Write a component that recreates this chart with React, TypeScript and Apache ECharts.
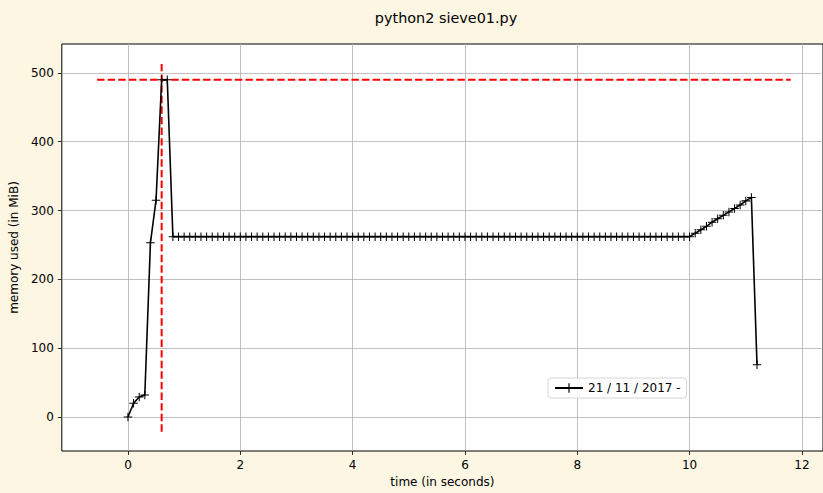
import React, { useEffect, useRef } from "react";
import * as echarts from "echarts";

const titleText = "python2 sieve01.py";
const legendLabel = "21 / 11 / 2017 -";
const sampleInterval = 0.1;

// memory samples (MiB), one every 0.1 s
const memValues = [
  0, 20, 29, 32, 253, 315, 490, 490,
  262, 262, 262, 262, 262, 262, 262, 262, 262, 262,
  262, 262, 262, 262, 262, 262, 262, 262, 262, 262,
  262, 262, 262, 262, 262, 262, 262, 262, 262, 262,
  262, 262, 262, 262, 262, 262, 262, 262, 262, 262,
  262, 262, 262, 262, 262, 262, 262, 262, 262, 262,
  262, 262, 262, 262, 262, 262, 262, 262, 262, 262,
  262, 262, 262, 262, 262, 262, 262, 262, 262, 262,
  262, 262, 262, 262, 262, 262, 262, 262, 262, 262,
  262, 262, 262, 262, 262, 262, 262, 262, 262, 262,
  262, 262, 262,
  267, 272, 277, 283, 288, 293, 298, 303, 308, 314, 319,
  76,
];

const maxLineH = [
  [-0.55, 490],
  [11.8, 490],
];
const maxLineV = [
  [0.6, 513],
  [0.6, -25],
];

const xTicks = [0, 2, 4, 6, 8, 10, 12];
const yTicks = [0, 100, 200, 300, 400, 500];

const plusSymbol = "path://M0,4.4H10V5.6H0Z M4.4,0H5.6V10H4.4Z";

export default function App() {
  const ref = useRef<HTMLDivElement>(null);

  useEffect(() => {
    if (!ref.current) return;
    const chart = echarts.init(ref.current, null, { renderer: "svg" });
    const memData = memValues.map((v, i) => [
      Math.round(i * sampleInterval * 1000) / 1000,
      v,
    ]);
    const font = "DejaVu Sans";
    chart.setOption({
      animation: false,
      backgroundColor: "#fdf6e3",
      title: {
        text: titleText,
        left: 441,
        textAlign: "center",
        top: 6,
        textStyle: {
          fontFamily: font,
          fontSize: 14.4,
          fontWeight: "normal",
          color: "#000",
        },
      },
      grid: {
        left: 60,
        right: 0,
        top: 44,
        bottom: 39,
        show: true,
        backgroundColor: "#ffffff",
        borderColor: "#000",
        borderWidth: 1,
        containLabel: false,
      },
      legend: {
        data: [legendLabel],
        left: 548,
        top: 378,
        orient: "horizontal",
        itemWidth: 28,
        itemHeight: 12,
        itemGap: 4,
        padding: [4, 6, 4, 6],
        backgroundColor: "rgba(255,255,255,0.8)",
        borderColor: "#d6d6d6",
        borderWidth: 1,
        borderRadius: 3,
        textStyle: { fontFamily: font, fontSize: 12, color: "#000" },
      },
      xAxis: {
        type: "value",
        min: -1.178,
        max: 12.375,
        name: "time (in seconds)",
        nameLocation: "middle",
        nameGap: 25,
        nameTextStyle: { fontFamily: font, fontSize: 12, color: "#000" },
        axisLine: { show: false, onZero: false },
        axisTick: {
          show: true,
          inside: false,
          length: 4,
          customValues: xTicks,
          lineStyle: { color: "#000", width: 0.8 },
        },
        axisLabel: {
          customValues: xTicks,
          margin: 8,
          fontFamily: font,
          fontSize: 12,
          color: "#000",
        },
        splitLine: { show: true, lineStyle: { color: "#b0b0b0", width: 0.8 } },
      },
      yAxis: {
        type: "value",
        min: -49.5,
        max: 542,
        name: "memory used (in MiB)",
        nameLocation: "middle",
        nameGap: 38,
        nameTextStyle: { fontFamily: font, fontSize: 12, color: "#000" },
        axisLine: { show: false, onZero: false },
        axisTick: {
          show: true,
          inside: false,
          length: 4,
          customValues: yTicks,
          lineStyle: { color: "#000", width: 0.8 },
        },
        axisLabel: {
          customValues: yTicks,
          margin: 8,
          fontFamily: font,
          fontSize: 12,
          color: "#000",
        },
        splitLine: { show: true, lineStyle: { color: "#b0b0b0", width: 0.8 } },
      },
      series: [
        {
          name: "maxH",
          type: "line",
          data: maxLineH,
          showSymbol: false,
          silent: true,
          lineStyle: { color: "#ff0000", width: 2, type: [7.4, 3.2] },
          z: 2,
        },
        {
          name: "maxV",
          type: "line",
          data: maxLineV,
          showSymbol: false,
          silent: true,
          lineStyle: { color: "#ff0000", width: 2, type: [7.4, 3.2] },
          z: 2,
        },
        {
          name: legendLabel,
          type: "line",
          data: memData,
          showSymbol: true,
          showAllSymbol: true,
          symbol: plusSymbol,
          symbolSize: 8.5,
          itemStyle: { color: "#000" },
          lineStyle: { color: "#000", width: 1.6 },
          z: 3,
        },
      ],
    });
    return () => chart.dispose();
  }, []);

  return (
    <div
      ref={ref}
      style={{ position: "fixed", left: 0, top: 0, width: 823, height: 493 }}
    />
  );
}
